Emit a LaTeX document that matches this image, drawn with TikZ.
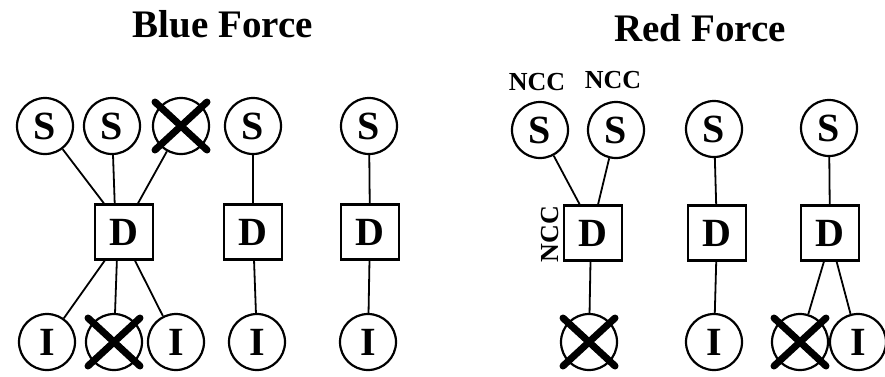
\documentclass[tikz,border=0pt]{standalone}
\usepackage{fontspec}
\setmainfont{Liberation Serif}
\usetikzlibrary{calc}

\begin{document}
\begin{tikzpicture}[x=1pt,y=-1pt,
    unit/.style={draw,line width=2.2pt,circle,minimum size=56pt,inner sep=0pt,font=\bfseries\fontsize{40}{40}\selectfont},
    hq/.style={draw,line width=2.2pt,minimum width=58pt,minimum height=55pt,inner sep=0pt,font=\bfseries\fontsize{40}{40}\selectfont},
    link/.style={line width=1.8pt},
    kill/.style={line width=7pt,line cap=round},
    tag/.style={inner sep=0pt,font=\bfseries\fontsize{26}{26}\selectfont},
    heading/.style={font=\bfseries\fontsize{39}{39}\selectfont}]
    \useasboundingbox (0,0) rectangle (885,376);

    % titles
    \node [heading] (blue) at (223,24) {Blue Force};
    \node [heading] (red) at (700,28) {Red Force};

    % blue force
    \node [unit] (bs1) at (45,126) {S};
    \node [unit] (bs2) at (112,126) {S};
    \node [unit] (bs3) at (181,126) {};
    \node [unit] (bs4) at (253,126) {S};
    \node [unit] (bs5) at (369,126) {S};
    \node [hq] (bd1) at (124,232) {D};
    \node [hq] (bd2) at (253,232) {D};
    \node [hq] (bd3) at (370,232) {D};
    \node [unit] (bi1) at (47,342) {I};
    \node [unit] (bi2) at (114,342) {};
    \node [unit] (bi3) at (176,342) {I};
    \node [unit] (bi4) at (257,342) {I};
    \node [unit] (bi5) at (368,342) {I};

    \draw [link] (bs1) -- (bd1.125);
    \draw [link] (bs2) -- (bd1.108);
    \draw [link] (bs3) -- (bd1.64);
    \draw [link] (bd1.236) -- (bi1);
    \draw [link] (bd1.256) -- (bi2);
    \draw [link] (bd1.291) -- (bi3);
    \draw [link] (bs4) -- (bd2) -- (bi4);
    \draw [link] (bs5) -- (bd3) -- (bi5);

    % red force
    \node [unit] (rs1) at (540,130) {S};
    \node [unit] (rs2) at (616,130) {S};
    \node [unit] (rs3) at (714,129) {S};
    \node [unit] (rs4) at (829,128) {S};
    \node [tag] (ncc1) at (537,82) {NCC};
    \node [tag] (ncc2) at (613,80) {NCC};
    \node [hq] (rd1) at (593,233) {D};
    \node [hq] (rd2) at (717,233) {D};
    \node [hq] (rd3) at (830,233) {D};
    \node [tag,rotate=90] (ncc3) at (550,234) {NCC};
    \node [unit] (ri1) at (589,342) {};
    \node [unit] (ri2) at (714,342) {I};
    \node [unit] (ri3) at (800,342) {};
    \node [unit] (ri4) at (858,342) {I};

    \draw [link] (rs1) -- (rd1.115);
    \draw [link] (rs2) -- (rd1.80);
    \draw [link] (rd1.265) -- (ri1);
    \draw [link] (rs3) -- (rd2) -- (ri2);
    \draw [link] (rs4) -- (rd3);
    \draw [link] (rd3.258) -- (ri3);
    \draw [link] (rd3.283) -- (ri4);

    % lost units
    \foreach \n in {bs3,bi2,ri1,ri3}
        \draw [kill] ($(\n)+(-26,-24)$) -- ($(\n)+(26,24)$)
                     ($(\n)+(26,-24)$) -- ($(\n)+(-26,24)$);
\end{tikzpicture}
\end{document}
